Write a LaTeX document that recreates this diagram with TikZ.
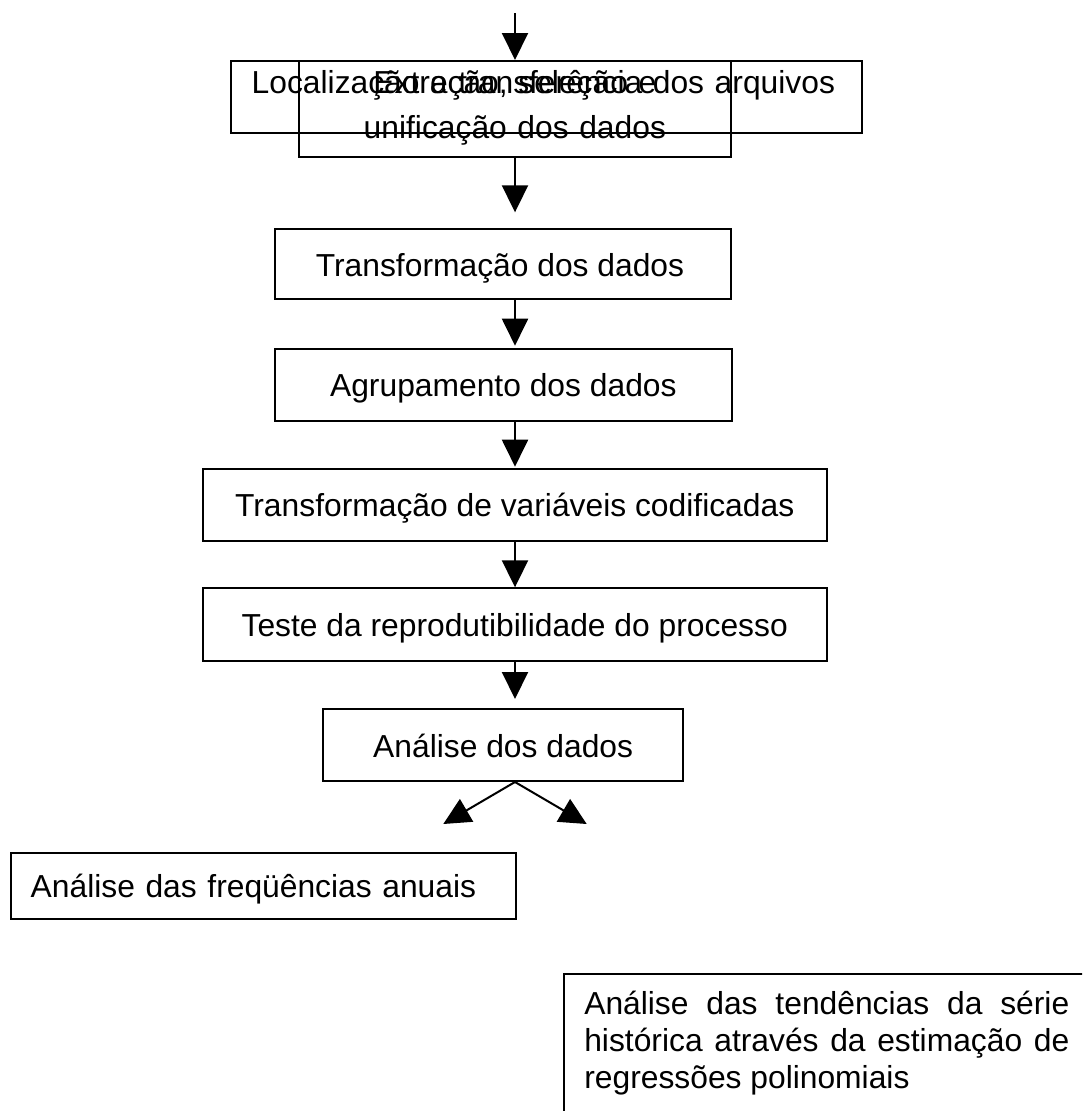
\documentclass[tikz,border=0pt]{standalone}
\usepackage{fontspec}
\setmainfont{Liberation Sans}
\usetikzlibrary{arrows.meta}
\begin{document}
\begin{tikzpicture}[x=1pt,y=-1pt,
  box/.style={draw, line width=2pt, rectangle, inner xsep=0pt, inner ysep=0pt,
    font=\fontsize{31.8pt}{37pt}\selectfont, text height=32pt, text depth=8pt, align=center},
  arr/.style={line width=2pt, -{Triangle[length=27pt,width=26pt]}}]
\useasboundingbox (0,0) rectangle (1082,1111);
\clip (0,0) rectangle (1082,1111);

\node[box, minimum width=631pt, minimum height=71.7pt, inner xsep=21pt, text width=589pt,
      align=left, text height=24pt, text depth=31.7pt] (loc) at (546.2,96.85)
  {Localização e transferência dos arquivos};
\node[box, minimum width=432.3pt, minimum height=95.7pt, inner xsep=21pt, text width=390.3pt,
      align=center, text height=24pt, text depth=55.7pt,
      font=\fontsize{31.8pt}{45.3pt}\selectfont] (ext) at (514.85,108.85)
  {Extração, seleção e\hspace*{8.7pt}\\unificação dos dados\hspace*{8.7pt}};
\node[box, minimum width=456pt, minimum height=70.6pt] (trf) at (503,264) {Transformação dos dados\hspace*{6pt}};
\node[box, minimum width=456.7pt, minimum height=71.7pt] (agr) at (503.35,384.85) {Agrupamento dos dados};
\node[box, minimum width=624pt, minimum height=72.3pt] (tvc) at (514.7,504.85) {Transformação de variáveis codificadas};
\node[box, minimum width=624pt, minimum height=72.7pt] (tst) at (514.7,624.65) {Teste da reprodutibilidade do processo};
\node[box, minimum width=360.3pt, minimum height=71.7pt] (ana) at (503.15,745.15) {Análise dos dados};
\node[box, minimum width=505pt, minimum height=66.3pt, inner xsep=20pt, text width=465pt,
      align=left] (frq) at (263.2,885.85) {Análise das freqüências anuais};
\node[box, anchor=north west, inner xsep=20.6pt, inner ysep=16.3pt, text width=485pt,
      align=justify, text height=24pt, text depth=100pt] (ten) at (562.7,972.7)
  {\tolerance=10000 Análise das tendências da série\linebreak histórica através da estimação de\linebreak regressões polinomiais};

\coordinate (axis) at (515,0);
\coordinate (start) at (515,13);
\draw[arr] (start) -- (loc.north -| axis);
\draw[arr, shorten >=15.4pt] (ext.south -| axis) -- (trf.north -| axis);
\draw[arr, shorten >=2.3pt] (trf.south -| axis) -- (agr.north -| axis);
\draw[arr, shorten >=1pt] (agr.south -| axis) -- (tvc.north -| axis);
\draw[arr] (tvc.south -| axis) -- (tst.north -| axis);
\draw[arr, shorten >=9.3pt] (tst.south -| axis) -- (ana.north -| axis);
\coordinate (fork) at (ana.south -| axis);
\coordinate (tipL) at (443.3,824);
\coordinate (tipR) at (586.7,824);
\draw[arr] (fork) -- (tipL);
\draw[arr] (fork) -- (tipR);
\end{tikzpicture}
\end{document}
